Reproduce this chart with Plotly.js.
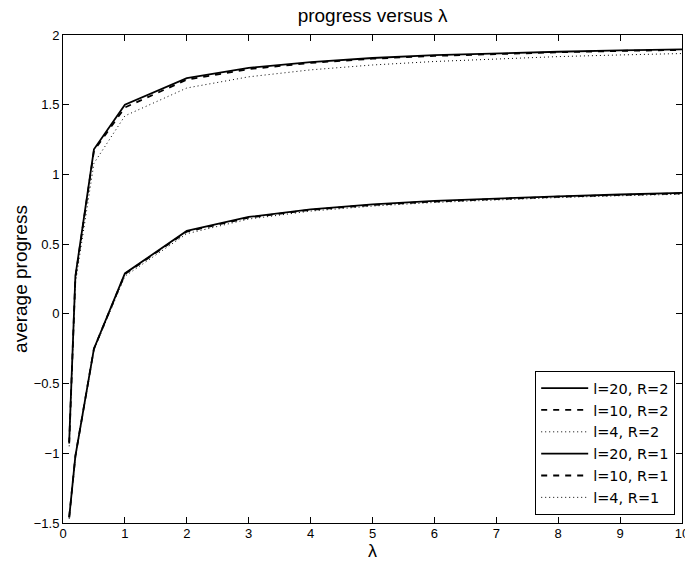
<!DOCTYPE html>
<html>
<head>
<meta charset="utf-8">
<script src="https://cdn.plot.ly/plotly-3.0.1.min.js"></script>
<style>html,body{margin:0;padding:0;background:#fff;}#chart{width:685px;height:561px;}</style>
</head>
<body>
<div id="chart"></div>
<script>
const lambdaVals = [0.1, 0.2, 0.5, 1, 2, 3, 4, 5, 6, 7, 8, 9, 10];
const l20R2 = [-0.92, 0.27, 1.18, 1.50, 1.69, 1.765, 1.805, 1.835, 1.855, 1.870, 1.880, 1.890, 1.897];
const l10R2 = [-0.93, 0.26, 1.17, 1.48, 1.68, 1.755, 1.800, 1.830, 1.850, 1.865, 1.876, 1.886, 1.893];
const l4R2  = [-0.95, 0.22, 1.08, 1.42, 1.62, 1.700, 1.750, 1.785, 1.810, 1.830, 1.845, 1.857, 1.867];
const l20R1 = [-1.46, -1.02, -0.25, 0.29, 0.595, 0.695, 0.750, 0.785, 0.810, 0.828, 0.843, 0.856, 0.867];
const l10R1 = [-1.46, -1.02, -0.25, 0.285, 0.590, 0.690, 0.746, 0.781, 0.806, 0.825, 0.840, 0.853, 0.864];
const l4R1  = [-1.47, -1.03, -0.26, 0.27, 0.575, 0.680, 0.737, 0.773, 0.799, 0.818, 0.834, 0.847, 0.858];
const seriesNames = ["l=20, R=2", "l=10, R=2", "l=4, R=2", "l=20, R=1", "l=10, R=1", "l=4, R=1"];
const seriesData = [l20R2, l10R2, l4R2, l20R1, l10R1, l4R1];
const dashes = ["solid", "6px,6px", "1px,3px", "solid", "6px,6px", "1px,3px"];
const widths = [1.8, 1.8, 1, 1.8, 1.8, 1];

const traces = seriesData.map((ys, i) => ({
  x: lambdaVals, y: ys, type: "scatter", mode: "lines", name: seriesNames[i],
  line: {color: "#000", width: widths[i], dash: dashes[i]}
}));

const font = {family: "Liberation Sans, Arial, sans-serif", color: "#000"};
const layout = {
  width: 685, height: 561,
  margin: {l: 63, r: 3, t: 35, b: 38},
  paper_bgcolor: "#fff", plot_bgcolor: "#fff",
  font: Object.assign({size: 13}, font),
  title: {text: "progress versus λ", x: 0.544, xanchor: "center", y: 0.985, yanchor: "top", font: Object.assign({}, font, {size: 19})},
  showlegend: true,
  legend: {x: 0.989, xanchor: "right", y: 0.016, yanchor: "bottom", bgcolor: "#fff", bordercolor: "#000", borderwidth: 1,
           font: {family: "DejaVu Sans, sans-serif", color: "#000", size: 14.5}, tracegroupgap: 0, itemwidth: 47},
  xaxis: {range: [0, 10], dtick: 1, tick0: 0, ticks: "inside", ticklen: 6, tickcolor: "#000", showline: true, linecolor: "#000", linewidth: 1,
          mirror: "ticks", showgrid: false, zeroline: false, ticklabeloverflow: "allow", ticklabelstandoff: -2, tickfont: Object.assign({}, font, {size: 13}),
          title: {text: "λ", standoff: 1, font: Object.assign({}, font, {size: 18})}},
  yaxis: {range: [-1.5, 2], dtick: 0.5, tick0: 0, ticks: "inside", ticklen: 6, tickcolor: "#000", showline: true, linecolor: "#000", linewidth: 1,
          mirror: "ticks", showgrid: false, zeroline: false, tickfont: Object.assign({}, font, {size: 13}),
          title: {text: "average progress", standoff: 1, font: Object.assign({}, font, {size: 19})}}
};
Plotly.newPlot("chart", traces, layout, {displayModeBar: false, staticPlot: true});
</script>
</body>
</html>
